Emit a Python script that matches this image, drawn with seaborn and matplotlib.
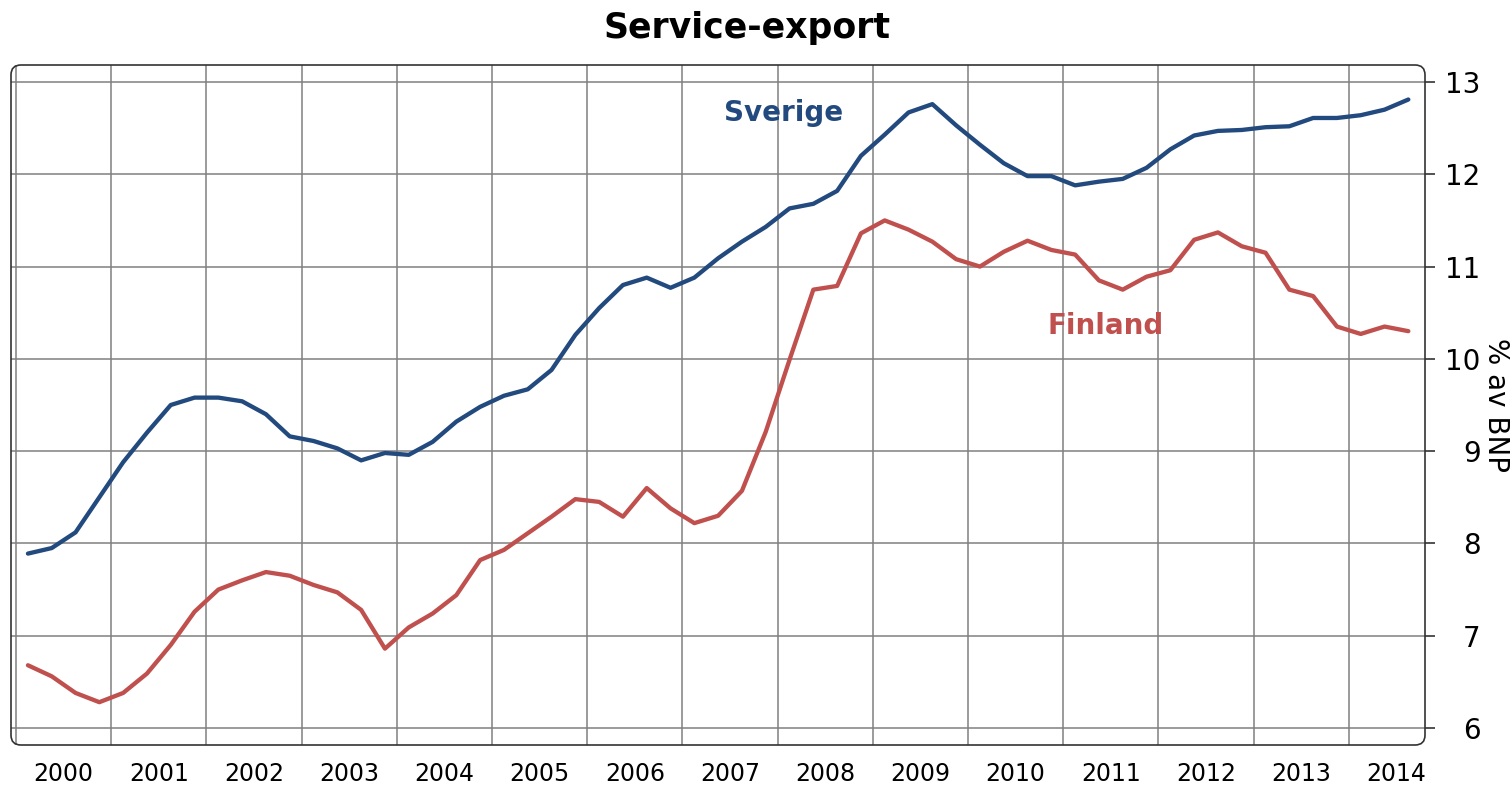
import matplotlib
matplotlib.use("Agg")
import matplotlib.pyplot as plt
from matplotlib.patches import FancyBboxPatch
from matplotlib.ticker import FixedLocator, FixedFormatter, NullFormatter
import pandas as pd
import seaborn as sns

# quarterly service exports, % of GDP, 2000Q1 - 2014Q3
years = list(range(2000, 2015))
year_labels = [str(y) for y in years]
quarters = [f"{y}Q{q}" for y in years for q in range(1, 5)][:59]

sverige = [7.89, 7.95, 8.12, 8.50, 8.88, 9.20, 9.50, 9.58, 9.58, 9.54, 9.40, 9.16,
           9.11, 9.03, 8.90, 8.98, 8.96, 9.10, 9.32, 9.48, 9.60, 9.67, 9.88, 10.26,
           10.55, 10.80, 10.88, 10.77, 10.88, 11.09, 11.27, 11.43, 11.63, 11.68, 11.82, 12.20,
           12.43, 12.67, 12.76, 12.53, 12.32, 12.12, 11.98, 11.98, 11.88, 11.92, 11.95, 12.07,
           12.27, 12.42, 12.47, 12.48, 12.51, 12.52, 12.61, 12.61, 12.64, 12.70, 12.81]

finland = [6.68, 6.56, 6.38, 6.28, 6.38, 6.59, 6.90, 7.26, 7.50, 7.60, 7.69, 7.65,
           7.55, 7.47, 7.28, 6.86, 7.09, 7.24, 7.44, 7.82, 7.93, 8.11, 8.29, 8.48,
           8.45, 8.29, 8.60, 8.38, 8.22, 8.30, 8.57, 9.21, 9.99, 10.75, 10.79, 11.36,
           11.50, 11.40, 11.27, 11.08, 11.00, 11.16, 11.28, 11.18, 11.13, 10.85, 10.75, 10.89,
           10.96, 11.29, 11.37, 11.22, 11.15, 10.75, 10.68, 10.35, 10.27, 10.35, 10.30]

blue = "#224A7E"
red = "#C0504D"

# quarter midpoints as decimal years
t = [int(q[:4]) + (int(q[-1]) - 0.5) / 4 for q in quarters]
df = pd.DataFrame({
    "t": t + t,
    "value": sverige + finland,
    "land": ["Sverige"] * len(sverige) + ["Finland"] * len(finland),
})

sns.set_style("white")
plt.rcParams["font.family"] = ["DejaVu Sans"]
plt.rcParams["text.color"] = "black"
plt.rcParams["xtick.color"] = "black"
plt.rcParams["ytick.color"] = "black"
plt.rcParams["axes.labelcolor"] = "black"

fig = plt.figure(figsize=(15.1, 7.87), dpi=100)
ax = fig.add_axes([11 / 1510, 42 / 787, 1414 / 1510, 680 / 787])

sns.lineplot(data=df, x="t", y="value", hue="land",
             palette={"Sverige": blue, "Finland": red},
             lw=3.1, legend=False, ax=ax, zorder=3)

ax.set_xlim(1999.947, 2014.80)
ax.set_ylim(5.816, 13.184)

# x: year boundaries as ticks/grid, labels in the middle of each year
ax.xaxis.set_major_locator(FixedLocator(years))
ax.xaxis.set_major_formatter(NullFormatter())
ax.xaxis.set_minor_locator(FixedLocator([y + 0.5 for y in years]))
ax.xaxis.set_minor_formatter(FixedFormatter(year_labels))
ax.tick_params(axis="x", which="major", length=7, width=1.2, color="#333333", direction="out")
ax.tick_params(axis="x", which="minor", length=0, pad=12, labelsize=17)

# y on the right
ax.yaxis.tick_right()
ax.yaxis.set_label_position("right")
ax.set_yticks(range(6, 14))
ax.tick_params(axis="y", length=7, width=1.2, color="#333333", direction="out",
               pad=33, labelsize=20)
for lab in ax.get_yticklabels():
    lab.set_horizontalalignment("right")
ax.set_ylabel("% av BNP", rotation=270, fontsize=20, ha="center", va="center")
ax.yaxis.set_label_coords(1.0505, 0.5)
ax.set_xlabel("")

ax.grid(True, which="major", color="#808080", lw=1.1)

for s in ax.spines.values():
    s.set_visible(False)
frame = FancyBboxPatch((0, 0), 1, 1, boxstyle="round,pad=0,rounding_size=0.007",
                       mutation_aspect=2.08, transform=ax.transAxes,
                       fill=False, ec="#333333", lw=1.2, clip_on=False, zorder=4)
ax.add_patch(frame)

ax.text(2008.06, 12.66, "Sverige", color=blue, fontsize=20, fontweight="bold",
        ha="center", va="center")
ax.text(2011.44, 10.36, "Finland", color=red, fontsize=20, fontweight="bold",
        ha="center", va="center")

fig.text(0.495, 0.964, "Service-export", ha="center", va="center",
         fontsize=25, fontweight="bold", color="black")

fig.savefig("out.png", dpi=100)
